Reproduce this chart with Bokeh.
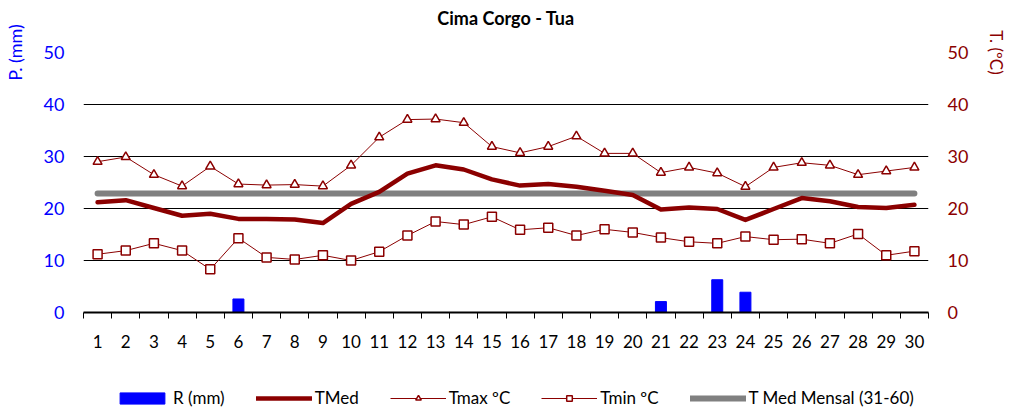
from bokeh.plotting import figure
from bokeh.layouts import column
from bokeh.models import LinearAxis, Range1d, FixedTicker, Legend, LegendItem, ColumnDataSource, Label
from bokeh.core.properties import value
from bokeh.embed import file_html
from bokeh.resources import INLINE

days = list(range(1, 31))
rain = [0, 0, 0, 0, 0, 2.6, 0, 0, 0, 0, 0, 0, 0, 0, 0, 0, 0, 0, 0, 0,
        2.1, 0, 6.3, 3.9, 0, 0, 0, 0, 0, 0]
tmed = [21.2, 21.6, 20.1, 18.6, 19.0, 18.0, 18.0, 17.9, 17.2, 20.9,
        23.2, 26.7, 28.3, 27.5, 25.6, 24.4, 24.7, 24.2, 23.4, 22.6,
        19.8, 20.2, 19.9, 17.8, 19.9, 22.0, 21.4, 20.3, 20.1, 20.7]
tmax = [29.0, 29.9, 26.5, 24.3, 28.1, 24.7, 24.5, 24.6, 24.3, 28.3,
        33.7, 37.1, 37.2, 36.5, 31.9, 30.7, 31.9, 33.9, 30.6, 30.6,
        26.9, 27.9, 26.8, 24.2, 27.9, 28.8, 28.3, 26.5, 27.2, 27.9]
tmin = [11.2, 11.9, 13.3, 11.9, 8.3, 14.3, 10.6, 10.2, 11.0, 10.0,
        11.7, 14.8, 17.5, 16.9, 18.4, 15.9, 16.3, 14.8, 16.0, 15.4,
        14.4, 13.6, 13.3, 14.6, 14.0, 14.1, 13.3, 15.1, 11.0, 11.8]
tmed_mensal = [22.9] * 30
y_ticks = [0, 10, 20, 30, 40, 50]
series_names = ["R (mm)", "TMed", "Tmax ºC", "Tmin ºC", "T Med Mensal (31-60)"]
chart_title = "Cima Corgo - Tua"

FONT = "Lato"
RED = "#8B0000"
BLUE = "#0000FF"
GRAY = "#808080"

data = dict(day=days, rain=rain, tmed=tmed, tmax=tmax, tmin=tmin, mensal=tmed_mensal)
src = ColumnDataSource(data)

# ---- title strip (the chart below overlaps it with a transparent border) ----
tf = figure(width=1010, height=30, output_backend="svg", toolbar_location=None,
            x_axis_location=None, y_axis_location=None, min_border=0,
            x_range=Range1d(0.5, 30.5), y_range=Range1d(0, 30))
tf.outline_line_color = None
tf.grid.grid_line_color = None
tf.add_layout(Label(x=15.5, y=13, text=chart_title, text_align="center",
                    text_baseline="middle", text_font=FONT, text_font_size="18px",
                    text_font_style="bold", text_color="black"))

# ---- main chart ----
p = figure(width=1010, height=350, x_range=Range1d(0.5, 30.5), y_range=Range1d(0, 50),
           output_backend="svg", toolbar_location=None,
           min_border_left=81, min_border_right=73, min_border_top=52, min_border_bottom=38)
p.margin = (-30, 0, 0, 0)
p.extra_y_ranges = {"temp": Range1d(0, 50)}
p.outline_line_color = None
p.background_fill_alpha = 0
p.border_fill_alpha = 0
p.title.text = ""

# x axis
xa = p.xaxis[0]
xa.ticker = FixedTicker(ticks=days, minor_ticks=[d - 0.5 for d in days] + [30.5])
xa.major_tick_line_color = None
xa.major_tick_out = 0
xa.major_tick_in = 0
xa.minor_tick_line_color = "black"
xa.minor_tick_out = 6
xa.minor_tick_in = 0
xa.axis_line_color = "black"
xa.axis_line_width = 2
xa.major_label_text_font = FONT
xa.major_label_text_font_size = "17px"
xa.major_label_text_color = "black"
xa.major_label_standoff = 16

# left axis
ya = p.yaxis[0]
ya.ticker = FixedTicker(ticks=y_ticks)
ya.axis_line_color = None
ya.major_tick_line_color = None
ya.minor_tick_line_color = None
ya.major_tick_out = 0
ya.major_label_standoff = 19
ya.major_label_text_font = FONT
ya.major_label_text_font_size = "18px"
ya.major_label_text_color = BLUE
ya.axis_label = "P. (mm)"
ya.axis_label_align = "end"
ya.axis_label_text_font = FONT
ya.axis_label_text_font_size = "18px"
ya.axis_label_text_font_style = "normal"
ya.axis_label_text_color = BLUE
ya.axis_label_standoff = 15

# right axis
ra = LinearAxis(y_range_name="temp", ticker=FixedTicker(ticks=y_ticks))
ra.axis_line_color = None
ra.major_tick_line_color = None
ra.minor_tick_line_color = None
ra.major_tick_out = 0
ra.major_label_standoff = 19
ra.major_label_text_font = FONT
ra.major_label_text_font_size = "18px"
ra.major_label_text_color = RED
ra.axis_label = "T. (ºC)"
ra.axis_label_align = "end"
ra.axis_label_text_font = FONT
ra.axis_label_text_font_size = "17px"
ra.axis_label_text_font_style = "normal"
ra.axis_label_text_color = RED
ra.axis_label_standoff = 15
p.add_layout(ra, "right")

p.xgrid.grid_line_color = None
p.ygrid.ticker = FixedTicker(ticks=y_ticks[1:])
p.ygrid.grid_line_color = "black"
p.ygrid.grid_line_width = 1


def draw(fig, source, msize):
    bar = fig.vbar(x="day", top="rain", width=0.39, bottom=0, source=source,
                   fill_color=BLUE, line_color=BLUE)
    mensal = fig.line("day", "mensal", source=source, y_range_name="temp",
                      line_color=GRAY, line_width=6, line_cap="round")
    med = fig.line("day", "tmed", source=source, y_range_name="temp",
                   line_color=RED, line_width=4.5, line_cap="round", line_join="round")
    mx_l = fig.line("day", "tmax", source=source, y_range_name="temp",
                    line_color=RED, line_width=1)
    mx_m = fig.scatter("day", "tmax", source=source, y_range_name="temp", marker="triangle",
                       size=msize, fill_color="white", line_color=RED, line_width=1.5)
    mn_l = fig.line("day", "tmin", source=source, y_range_name="temp",
                    line_color=RED, line_width=1)
    mn_m = fig.scatter("day", "tmin", source=source, y_range_name="temp", marker="square",
                       size=msize, fill_color="white", line_color=RED, line_width=1.5)
    return [[bar], [med], [mx_l, mx_m], [mn_l, mn_m], [mensal]]


draw(p, src, 9)

# ---- legend strip (same series, drawn outside its visible range) ----
lg = figure(width=1010, height=60, output_backend="svg", toolbar_location=None,
            x_axis_location=None, y_axis_location=None, min_border=0,
            x_range=Range1d(0.5, 30.5), y_range=Range1d(100, 101))
lg.extra_y_ranges = {"temp": Range1d(100, 101)}
lg.outline_line_color = None
lg.grid.grid_line_color = None
groups = draw(lg, ColumnDataSource(data), 7)

legend = Legend(items=[LegendItem(label=value(n), renderers=g)
                       for n, g in zip(series_names, groups)],
                orientation="horizontal", location=(31, 2))
legend.border_line_color = None
legend.background_fill_alpha = 0
legend.padding = 0
legend.margin = 0
legend.spacing = 31
legend.glyph_width = 56
legend.glyph_height = 14
legend.label_standoff = 3
legend.label_height = 20
legend.label_text_font = FONT
legend.label_text_font_size = "17px"
legend.label_text_color = "black"
lg.add_layout(legend, "center")

layout = column(tf, p, lg, spacing=0)
open("out.html", "w").write(file_html(layout, INLINE))
